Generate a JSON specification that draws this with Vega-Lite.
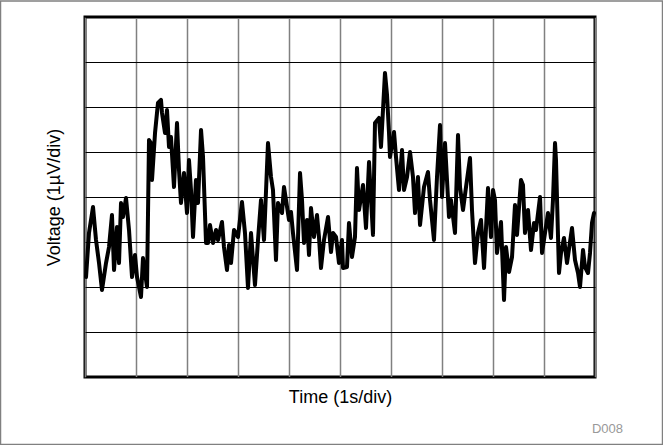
{
  "$schema": "https://vega.github.io/schema/vega-lite/v6.json",
  "width": 510,
  "height": 360,
  "autosize": {"type": "none"},
  "padding": {"left": 85, "top": 17, "right": 68, "bottom": 68},
  "background": "white",
  "layer": [
    {
      "data": {"values": [{"x0": -1.657, "x1": 11.324, "y0": -1.5, "y1": 8.356}]},
      "mark": {"type": "rect", "fill": null, "fillOpacity": 0, "stroke": "#808080", "strokeWidth": 1.5, "clip": false},
      "encoding": {
        "x": {"field": "x0", "type": "quantitative"},
        "x2": {"field": "x1"},
        "y": {"field": "y0", "type": "quantitative"},
        "y2": {"field": "y1"}
      }
    },
    {
      "data": {"values": [{"label": "D008"}]},
      "mark": {"type": "text", "align": "right", "baseline": "alphabetic", "font": "Liberation Sans", "fontSize": 13, "color": "#999999", "clip": false},
      "encoding": {
        "x": {"datum": 10.549, "type": "quantitative"},
        "y": {"datum": -1.244, "type": "quantitative"},
        "text": {"field": "label"}
      }
    },
    {
      "data": {"values": [
        {"t":0.020,"v":2.222},{"t":0.078,"v":3.2},{"t":0.157,"v":3.778},{"t":0.216,"v":3.044},{"t":0.275,"v":2.533},{"t":0.333,"v":1.933},{"t":0.412,"v":2.533},{"t":0.471,"v":2.889},{"t":0.529,"v":3.6},{"t":0.569,"v":2.378},{"t":0.627,"v":3.333},{"t":0.667,"v":2.533},{"t":0.706,"v":3.867},{"t":0.745,"v":3.556},{"t":0.804,"v":3.978},{"t":0.863,"v":3.267},{"t":0.922,"v":2.222},{"t":0.980,"v":2.711},{"t":1.020,"v":2.222},{"t":1.098,"v":1.778},{"t":1.137,"v":2.644},{"t":1.216,"v":2.0},{"t":1.255,"v":5.267},{"t":1.294,"v":5.2},{"t":1.314,"v":4.378},{"t":1.373,"v":5.422},{"t":1.431,"v":6.089},{"t":1.490,"v":6.156},{"t":1.510,"v":5.867},{"t":1.569,"v":5.422},{"t":1.608,"v":5.933},{"t":1.647,"v":5.111},{"t":1.686,"v":5.333},{"t":1.745,"v":4.222},{"t":1.804,"v":5.644},{"t":1.843,"v":4.6},{"t":1.882,"v":3.867},{"t":1.941,"v":4.533},
        {"t":2.000,"v":3.644},{"t":2.039,"v":4.822},{"t":2.078,"v":4.156},{"t":2.118,"v":3.111},{"t":2.176,"v":4.378},{"t":2.216,"v":3.867},{"t":2.275,"v":5.489},{"t":2.314,"v":4.889},{"t":2.373,"v":2.978},{"t":2.412,"v":2.978},{"t":2.451,"v":3.378},{"t":2.510,"v":2.978},{"t":2.569,"v":3.267},{"t":2.608,"v":3.044},{"t":2.686,"v":3.444},{"t":2.725,"v":2.889},{"t":2.784,"v":2.378},{"t":2.824,"v":2.933},{"t":2.863,"v":2.533},{"t":2.922,"v":3.267},{"t":3.000,"v":3.111},{"t":3.078,"v":3.889},{"t":3.137,"v":3.2},{"t":3.196,"v":1.978},{"t":3.255,"v":3.2},{"t":3.333,"v":2.044},{"t":3.392,"v":3.044},{"t":3.451,"v":3.933},{"t":3.510,"v":3.044},{"t":3.588,"v":5.2},{"t":3.647,"v":4.444},{"t":3.686,"v":4.156},{"t":3.745,"v":2.6},{"t":3.784,"v":3.867},{"t":3.863,"v":3.644},{"t":3.902,"v":4.222},{"t":3.941,"v":3.933},
        {"t":4.000,"v":3.489},{"t":4.039,"v":3.667},{"t":4.078,"v":3.2},{"t":4.157,"v":2.378},{"t":4.216,"v":4.533},{"t":4.255,"v":3.933},{"t":4.294,"v":2.978},{"t":4.353,"v":3.489},{"t":4.392,"v":2.711},{"t":4.431,"v":3.756},{"t":4.490,"v":3.111},{"t":4.549,"v":3.6},{"t":4.588,"v":3.111},{"t":4.627,"v":2.422},{"t":4.686,"v":3.044},{"t":4.765,"v":3.556},{"t":4.824,"v":2.778},{"t":4.863,"v":3.2},{"t":4.922,"v":3.111},{"t":4.980,"v":2.533},{"t":5.039,"v":3.044},{"t":5.059,"v":2.422},{"t":5.137,"v":2.444},{"t":5.176,"v":3.422},{"t":5.235,"v":2.667},{"t":5.294,"v":3.111},{"t":5.333,"v":4.644},{"t":5.373,"v":3.711},{"t":5.451,"v":4.267},{"t":5.510,"v":3.311},{"t":5.569,"v":4.778},{"t":5.647,"v":3.156},{"t":5.686,"v":5.644},{"t":5.765,"v":5.756},{"t":5.804,"v":5.111},{"t":5.843,"v":5.933},{"t":5.882,"v":6.756},{"t":5.922,"v":6.267},{"t":5.961,"v":5.422},{"t":5.980,"v":4.889},
        {"t":6.059,"v":5.444},{"t":6.098,"v":4.889},{"t":6.157,"v":4.156},{"t":6.216,"v":5.044},{"t":6.255,"v":4.156},{"t":6.314,"v":4.444},{"t":6.373,"v":5.0},{"t":6.431,"v":4.444},{"t":6.471,"v":3.644},{"t":6.529,"v":4.444},{"t":6.569,"v":3.378},{"t":6.647,"v":4.222},{"t":6.725,"v":4.556},{"t":6.765,"v":3.933},{"t":6.843,"v":3.044},{"t":6.902,"v":4.444},{"t":6.961,"v":5.6},{"t":7.000,"v":4.0},{"t":7.059,"v":5.2},{"t":7.137,"v":3.556},{"t":7.176,"v":3.933},{"t":7.255,"v":3.2},{"t":7.314,"v":5.378},{"t":7.353,"v":4.222},{"t":7.412,"v":3.711},{"t":7.471,"v":4.222},{"t":7.549,"v":4.867},{"t":7.588,"v":3.711},{"t":7.647,"v":2.533},{"t":7.706,"v":3.2},{"t":7.765,"v":3.489},{"t":7.824,"v":2.422},{"t":7.902,"v":4.2},{"t":7.961,"v":3.111},
        {"t":8.000,"v":4.156},{"t":8.039,"v":3.933},{"t":8.078,"v":2.756},{"t":8.157,"v":3.444},{"t":8.216,"v":1.711},{"t":8.255,"v":2.889},{"t":8.314,"v":2.333},{"t":8.373,"v":2.667},{"t":8.431,"v":3.822},{"t":8.471,"v":3.156},{"t":8.549,"v":4.378},{"t":8.588,"v":4.267},{"t":8.627,"v":3.2},{"t":8.686,"v":3.711},{"t":8.745,"v":2.822},{"t":8.804,"v":3.422},{"t":8.843,"v":3.267},{"t":8.922,"v":4.0},{"t":8.961,"v":2.756},{"t":9.020,"v":3.2},{"t":9.078,"v":3.644},{"t":9.137,"v":3.089},{"t":9.176,"v":3.933},{"t":9.216,"v":5.2},{"t":9.235,"v":4.822},{"t":9.294,"v":2.311},{"t":9.333,"v":2.756},{"t":9.392,"v":3.089},{"t":9.451,"v":2.533},{"t":9.549,"v":3.311},{"t":9.608,"v":2.6},{"t":9.667,"v":2.311},{"t":9.706,"v":2.0},{"t":9.765,"v":2.822},{"t":9.804,"v":2.444},{"t":9.863,"v":2.311},{"t":9.902,"v":2.756},{"t":9.941,"v":3.422},{"t":9.980,"v":3.644}
      ]},
      "mark": {"type": "line", "color": "black", "strokeWidth": 4, "strokeJoin": "round", "strokeCap": "round"},
      "encoding": {
        "x": {"field": "t", "type": "quantitative", "scale": {"domain": [0, 10], "nice": false, "zero": false},
          "axis": {"values": [0,1,2,3,4,5,6,7,8,9,10], "labels": false, "ticks": false, "domain": false, "grid": true, "gridColor": "#808080", "gridWidth": 1.5, "gridOpacity": 1,
            "title": "Time (1s/div)", "titleFont": "Liberation Sans", "titleFontSize": 18, "titleFontWeight": "normal", "titleColor": "black", "titlePadding": 11}},
        "y": {"field": "v", "type": "quantitative", "scale": {"domain": [0, 8], "nice": false, "zero": false},
          "axis": {"values": [0,1,2,3,4,5,6,7,8], "labels": false, "ticks": false, "domain": false, "grid": true, "gridColor": "black", "gridWidth": 1.2, "gridOpacity": 1,
            "title": "Voltage (1µV/div)", "titleFont": "Liberation Sans", "titleFontSize": 18, "titleFontWeight": "normal", "titleColor": "black", "titlePadding": 22}}
      }
    }
  ],
  "config": {"view": {"stroke": "black", "strokeWidth": 3}}
}
